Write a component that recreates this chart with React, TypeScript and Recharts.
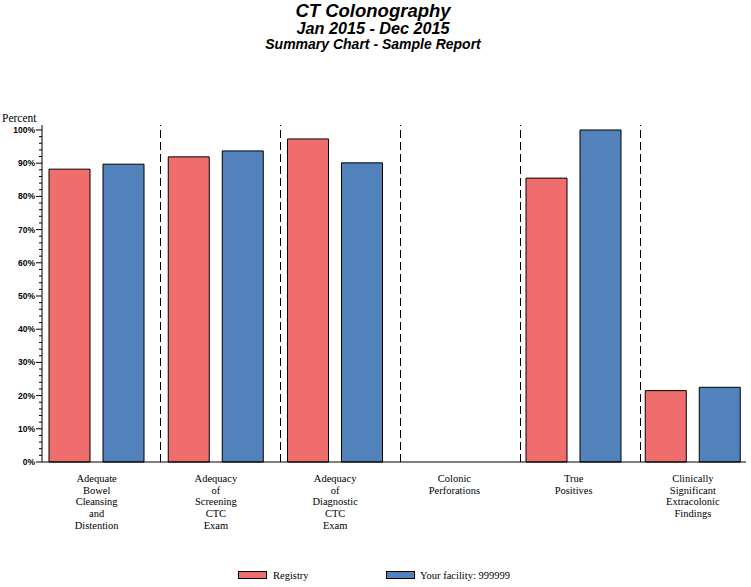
import { BarChart, Bar, XAxis, YAxis, ReferenceLine } from "recharts";

const CATEGORIES = [
  "Adequate\nBowel\nCleansing\nand\nDistention",
  "Adequacy\nof\nScreening\nCTC\nExam",
  "Adequacy\nof\nDiagnostic\nCTC\nExam",
  "Colonic\nPerforations",
  "True\nPositives",
  "Clinically\nSignificant\nExtracolonic\nFindings",
];

const REGISTRY = [88.2, 91.9, 97.3, 0, 85.5, 21.5];
const FACILITY = [89.7, 93.7, 90.1, 0, 100, 22.5];

const MAJOR_TICKS = [0, 10, 20, 30, 40, 50, 60, 70, 80, 90, 100];
// minor ticks every 2%
const ALL_TICKS = Array.from({ length: 51 }, (_, i) => i * 2);

// group separators sit between categories (index boundaries)
const DIVIDERS = [1, 2, 3, 4, 5];

const RED = "#EF6D6D";
const BLUE = "#5282BC";

const data = CATEGORIES.map((name, i) => ({
  name,
  slot: i + 0.5,
  registry: REGISTRY[i],
  facility: FACILITY[i],
}));

const SERIF = "'Liberation Serif', 'Times New Roman', serif";
const SANS = "'Liberation Sans', Arial, sans-serif";

const YTick = (props: any) => {
  const { x, y, payload } = props;
  const major = MAJOR_TICKS.includes(payload.value);
  return (
    <g>
      <line x1={x - (major ? 6 : 3)} x2={x} y1={y} y2={y} stroke="#000" />
      {major && (
        <text
          x={x - 7}
          y={y}
          dy={3}
          textAnchor="end"
          fontFamily={SANS}
          fontWeight="bold"
          fontSize={8.5}
          fill="#000"
        >
          {payload.value}%
        </text>
      )}
    </g>
  );
};

const XTick = (props: any) => {
  const { x, y, payload } = props;
  const lines = String(payload.value).split("\n");
  return (
    <text
      x={x}
      y={y + 20}
      textAnchor="middle"
      fontFamily={SERIF}
      fontSize={10.5}
      fill="#000"
    >
      {lines.map((l, i) => (
        <tspan key={i} x={x} dy={i === 0 ? 0 : 11.7}>
          {l}
        </tspan>
      ))}
    </text>
  );
};

const App = () => {
  return (
    <div
      style={{
        position: "absolute",
        left: 0,
        top: 0,
        width: 751,
        height: 587,
        background: "#fff",
      }}
    >
      <svg
        width={751}
        height={130}
        style={{ position: "absolute", left: 0, top: 0 }}
      >
        <g fontFamily={SANS} fontWeight="bold" fontStyle="italic" fill="#000">
          <text x={373} y={16.5} textAnchor="middle" fontSize={18.5}>
            CT Colonography
          </text>
          <text x={373} y={33.5} textAnchor="middle" fontSize={16.2}>
            Jan 2015 - Dec 2015
          </text>
          <text x={373} y={49} textAnchor="middle" fontSize={14}>
            Summary Chart - Sample Report
          </text>
        </g>
        <text x={2} y={121.5} fontFamily={SERIF} fontSize={11.5} fill="#000">
          Percent
        </text>
      </svg>

      <div style={{ position: "absolute", left: 0, top: 0 }}>
        <BarChart
          width={751}
          height={587}
          data={data}
          margin={{ top: 125, right: 5, bottom: 45, left: 0 }}
          barGap={13}
          barSize={41}
        >
          <XAxis
            xAxisId="cat"
            dataKey="name"
            height={80}
            interval={0}
            padding={{ left: -5, right: -6.5 }}
            tickLine={false}
            tickSize={0}
            tickMargin={0}
            axisLine={{ stroke: "#000" }}
            tick={<XTick />}
          />
          <XAxis
            xAxisId="top"
            dataKey="name"
            orientation="top"
            height={0}
            tick={false}
            tickLine={false}
            axisLine={{ stroke: "#000" }}
          />
          <XAxis
            xAxisId="div"
            dataKey="slot"
            type="number"
            scale="linear"
            domain={[0, 6]}
            allowDataOverflow
            padding={{ left: -1.5, right: -14.5 }}
            height={0}
            hide
          />
          <YAxis
            yAxisId="pct"
            domain={[0, 101.5]}
            ticks={ALL_TICKS}
            interval={0}
            width={42}
            tickLine={false}
            tickSize={0}
            tickMargin={0}
            axisLine={{ stroke: "#000" }}
            tick={<YTick />}
          />
          <YAxis
            yAxisId="frame"
            orientation="right"
            domain={[0, 101.5]}
            width={0}
            tick={false}
            tickLine={false}
            axisLine={{ stroke: "#000" }}
          />
          {DIVIDERS.map((d) => (
            <ReferenceLine
              key={d}
              x={d}
              xAxisId="div"
              yAxisId="pct"
              stroke="#000"
              strokeDasharray="8 4"
            />
          ))}
          <Bar
            xAxisId="cat"
            yAxisId="pct"
            dataKey="registry"
            fill={RED}
            stroke="#000"
            strokeWidth={1}
            isAnimationActive={false}
          />
          <Bar
            xAxisId="cat"
            yAxisId="pct"
            dataKey="facility"
            fill={BLUE}
            stroke="#000"
            strokeWidth={1}
            isAnimationActive={false}
          />
        </BarChart>
      </div>

      <div
        style={{
          position: "absolute",
          left: 238,
          top: 571,
          width: 29,
          height: 8,
          background: RED,
          border: "1px solid #000",
          boxSizing: "border-box",
        }}
      />
      <div
        style={{
          position: "absolute",
          left: 273,
          top: 569,
          fontFamily: SERIF,
          fontSize: 10.5,
          lineHeight: "14px",
        }}
      >
        Registry
      </div>
      <div
        style={{
          position: "absolute",
          left: 386,
          top: 571,
          width: 29,
          height: 8,
          background: BLUE,
          border: "1px solid #000",
          boxSizing: "border-box",
        }}
      />
      <div
        style={{
          position: "absolute",
          left: 420,
          top: 569,
          fontFamily: SERIF,
          fontSize: 10.5,
          lineHeight: "14px",
        }}
      >
        Your facility: 999999
      </div>
    </div>
  );
};

export default App;
